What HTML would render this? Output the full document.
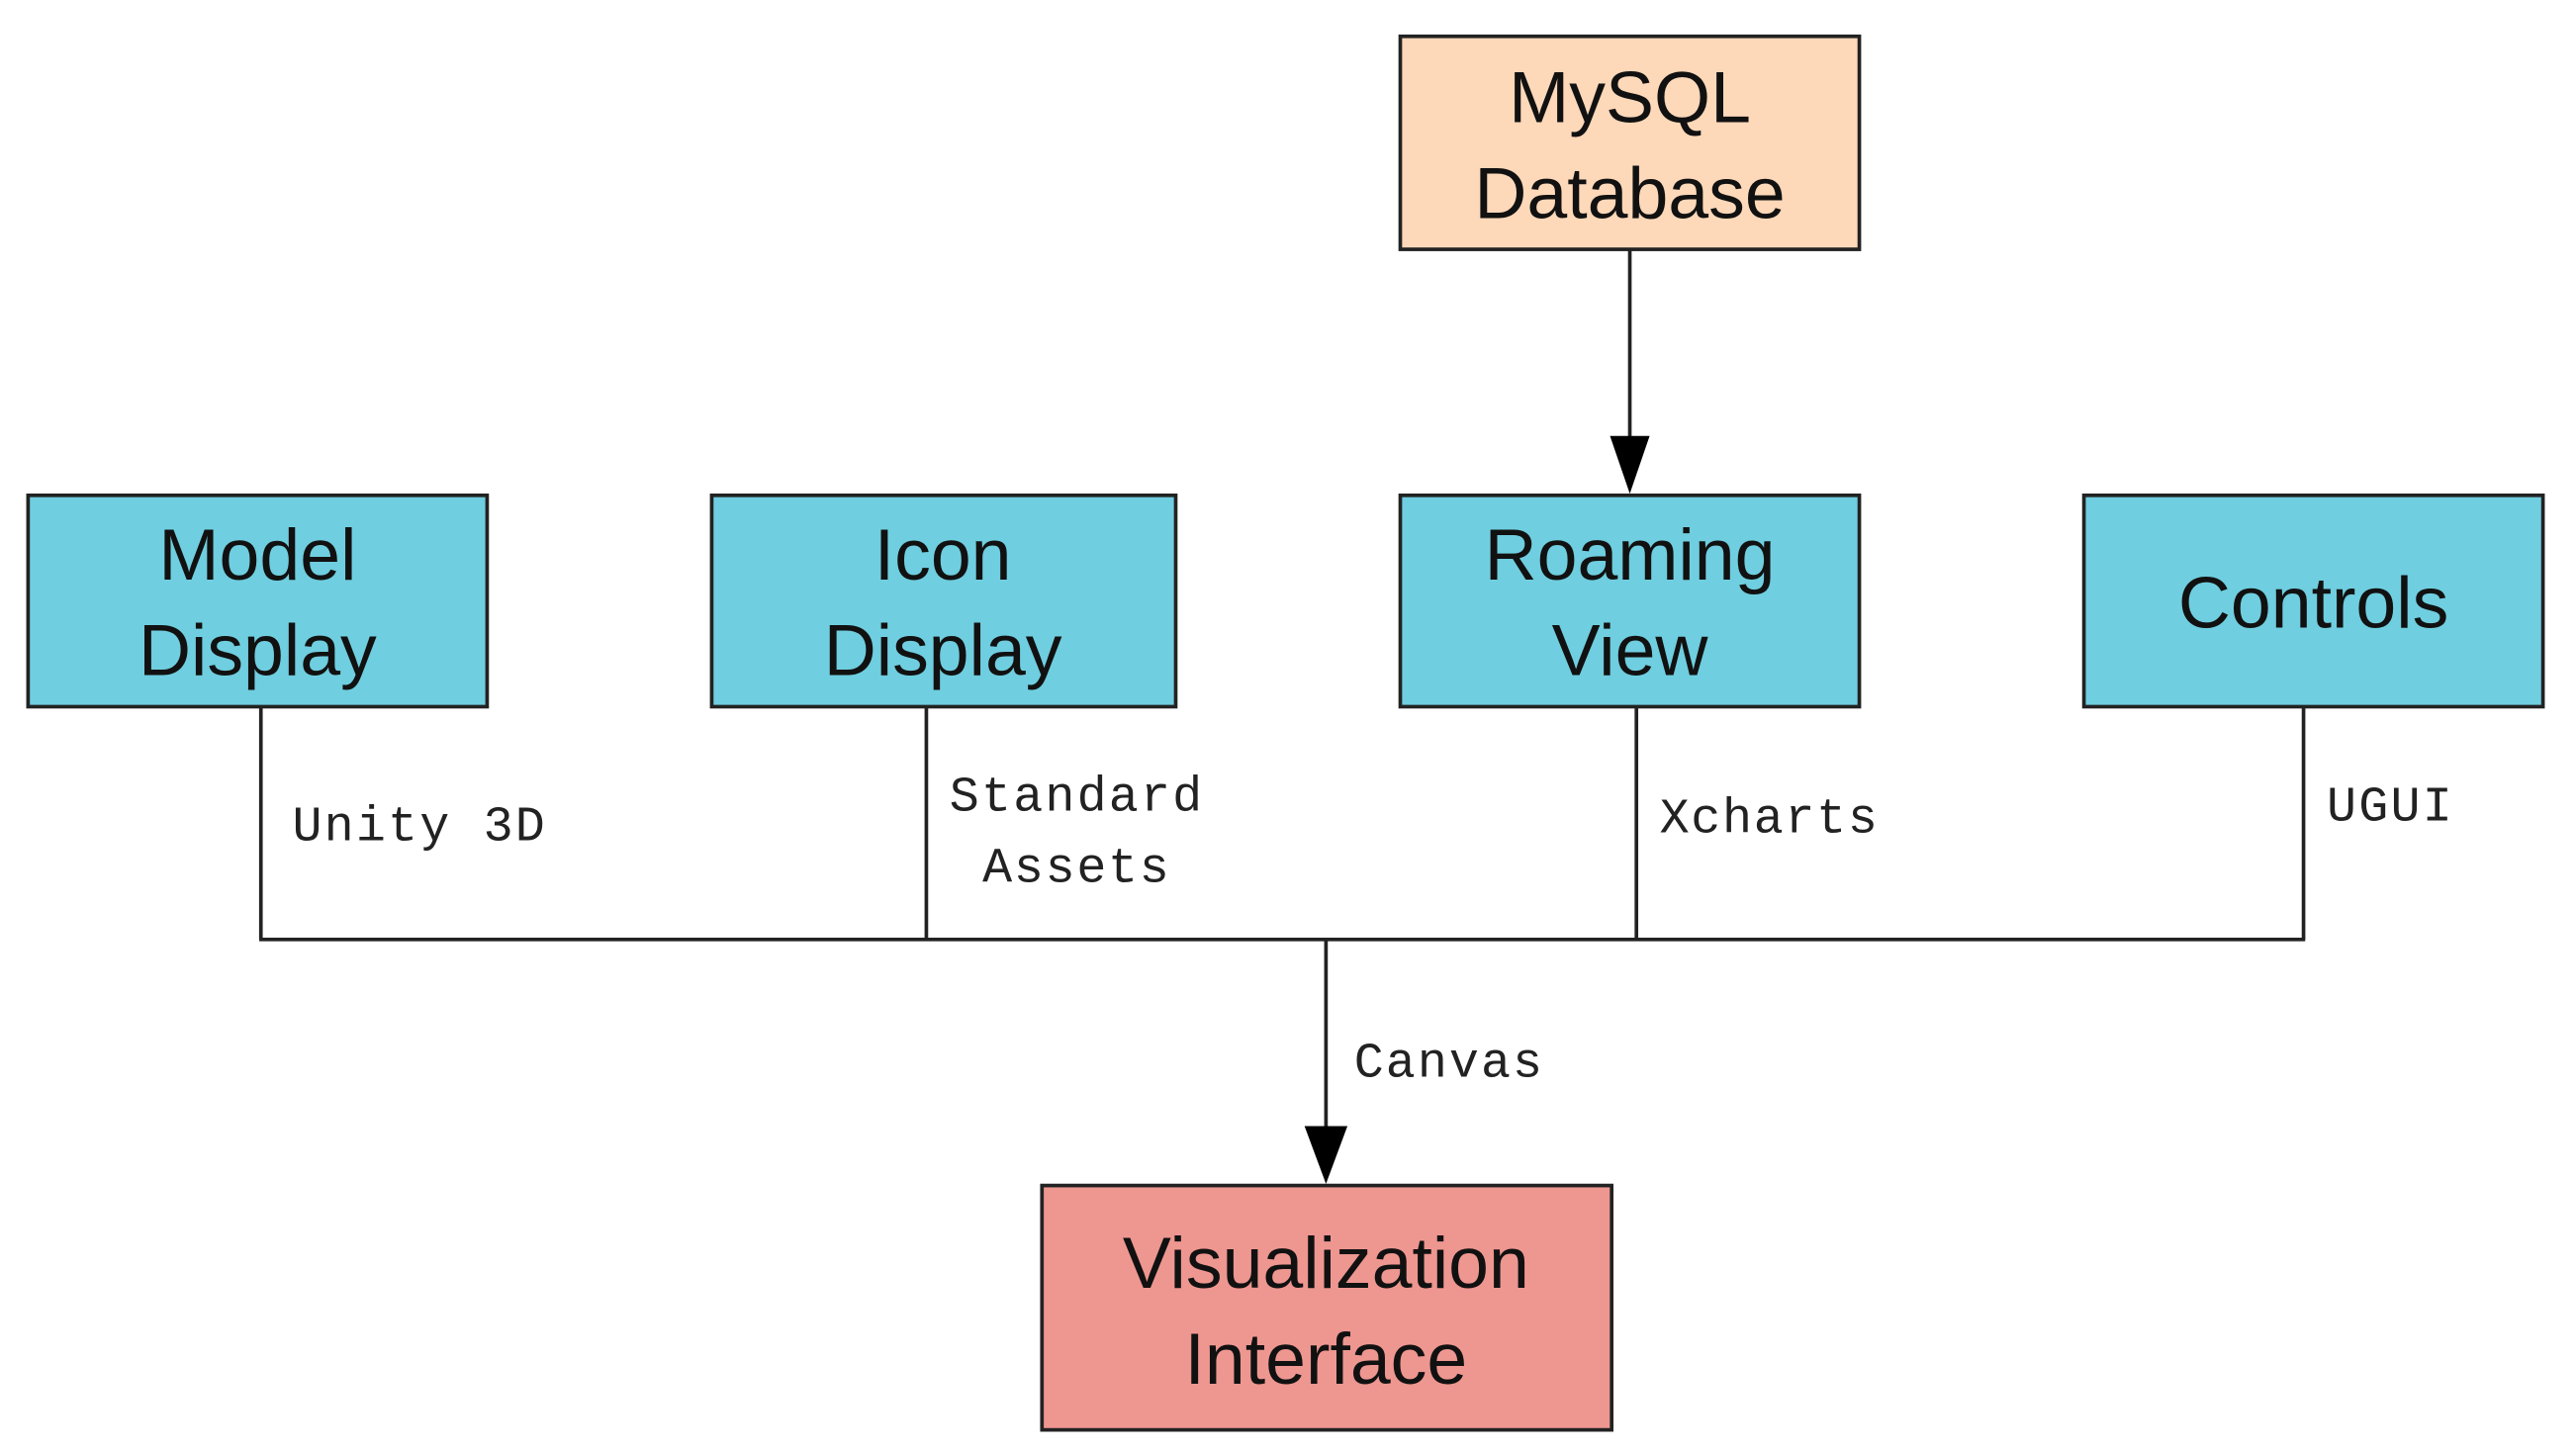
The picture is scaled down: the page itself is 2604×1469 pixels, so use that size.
<!DOCTYPE html>
<html><head><meta charset="utf-8"><style>html,body{margin:0;padding:0;background:#fff}svg{display:block}</style></head>
<body>
<svg width="2604" height="1469" viewBox="0 0 1560 880" preserveAspectRatio="none" xmlns="http://www.w3.org/2000/svg">
<g stroke="#222" stroke-width="2.2">
<rect x="848" y="22" width="278" height="129" fill="#FDD8B9"/>
<rect x="17" y="300" width="278" height="128" fill="#6FCEDF"/>
<rect x="431" y="300" width="281" height="128" fill="#6FCEDF"/>
<rect x="848" y="300" width="278" height="128" fill="#6FCEDF"/>
<rect x="1262" y="300" width="278" height="128" fill="#6FCEDF"/>
<rect x="631" y="718" width="345" height="148" fill="#EE9690"/>
<g fill="none">
<line x1="987" y1="151" x2="987" y2="268"/>
<line x1="158" y1="428" x2="158" y2="569"/>
<line x1="561" y1="428" x2="561" y2="569"/>
<line x1="991" y1="428" x2="991" y2="569"/>
<line x1="1395" y1="428" x2="1395" y2="569"/>
<line x1="157" y1="569" x2="1396" y2="569"/>
<line x1="803" y1="569" x2="803" y2="685"/>
</g>
</g>
<polygon points="975,264 999,264 987,299" fill="#000"/>
<polygon points="790,682 816,682 803,717" fill="#000"/>
<g font-family="Liberation Sans, sans-serif" font-size="44" fill="#111" text-anchor="middle">
<text x="987" y="74">MySQL</text><text x="987" y="132">Database</text>
<text x="156" y="351">Model</text><text x="156" y="409">Display</text>
<text x="571" y="351">Icon</text><text x="571" y="409">Display</text>
<text x="987" y="351">Roaming</text><text x="987" y="409">View</text>
<text x="1401" y="380">Controls</text>
<text x="803" y="780">Visualization</text><text x="803" y="838">Interface</text>
</g>
<g font-family="Liberation Mono, monospace" font-size="30" fill="#222">
<text x="177" y="509" textLength="153">Unity 3D</text>
<text x="575" y="491" textLength="153">Standard</text>
<text x="595" y="534" textLength="113">Assets</text>
<text x="1005" y="504" textLength="132">Xcharts</text>
<text x="1409" y="497" textLength="76">UGUI</text>
<text x="820" y="652" textLength="114">Canvas</text>
</g>
</svg>
</body></html>
